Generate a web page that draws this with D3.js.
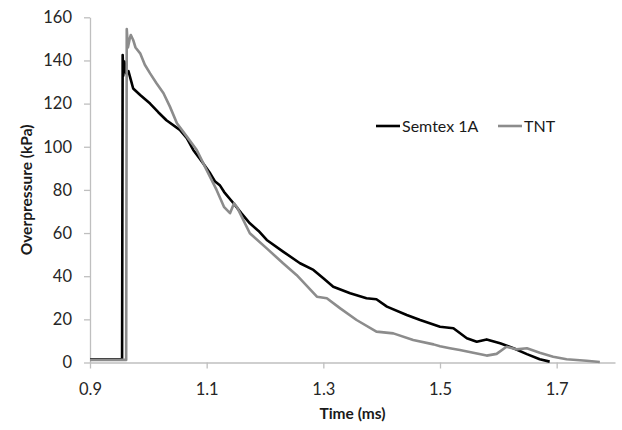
<!DOCTYPE html>
<html>
<head>
<meta charset="utf-8">
<script src="https://cdn.jsdelivr.net/npm/d3@7"></script>
<style>
  body { margin: 0; background: #fff; }
  text { font-family: Lato, "Open Sans", sans-serif; }
</style>
</head>
<body>
<svg id="chart"></svg>
<script>
// Semtex 1A trace [time ms, overpressure kPa]
const semtex = [
  [0.900, 1.5], [0.955, 1.5], [0.956, 142.5], [0.957, 133], [0.959, 139.5],
  [0.962, 134], [0.966, 135], [0.970, 131], [0.974, 127], [0.986, 124],
  [1.003, 120], [1.017, 116], [1.031, 112.3], [1.054, 107.8], [1.066, 104],
  [1.077, 98.5], [1.092, 93], [1.106, 87.7], [1.114, 84], [1.123, 82],
  [1.130, 79], [1.146, 73.8], [1.160, 69], [1.174, 64.5], [1.189, 61],
  [1.203, 56.8], [1.231, 51.4], [1.260, 46], [1.283, 42.9], [1.300, 39],
  [1.317, 35.1], [1.346, 32.1], [1.374, 29.8], [1.391, 29.3], [1.409, 25.9],
  [1.443, 22], [1.466, 19.7], [1.500, 16.6], [1.523, 15.9], [1.546, 11.2],
  [1.563, 9.6], [1.580, 10.7], [1.603, 8.9], [1.626, 6.6], [1.649, 3.9],
  [1.671, 1.5], [1.688, 0.4]
];

// TNT trace [time ms, overpressure kPa]
const tnt = [
  [0.900, 1.2], [0.962, 1.2], [0.963, 154.5], [0.965, 146], [0.968, 150],
  [0.970, 151.8], [0.974, 149.5], [0.978, 146], [0.986, 143.3], [0.994, 138],
  [1.003, 134], [1.014, 129.4], [1.026, 124.8], [1.037, 118.6], [1.049, 110.9],
  [1.066, 104.7], [1.083, 98.5], [1.100, 89.2], [1.117, 80], [1.130, 72],
  [1.140, 69.2], [1.147, 73.8], [1.152, 72], [1.174, 59.9], [1.203, 52.9],
  [1.231, 46], [1.254, 40.6], [1.289, 30.5], [1.306, 29.8], [1.329, 25.1],
  [1.357, 19.7], [1.391, 14.3], [1.420, 13.5], [1.454, 10.4], [1.489, 8.4],
  [1.500, 7.5], [1.517, 6.6], [1.534, 5.8], [1.557, 4.5], [1.580, 3.2],
  [1.597, 4], [1.614, 7.3], [1.631, 6.1], [1.649, 6.6], [1.671, 4.5],
  [1.694, 2.7], [1.717, 1.5], [1.751, 0.8], [1.774, 0.2]
];

const seriesNames = ["Semtex 1A", "TNT"];
const xTicks = [0.9, 1.1, 1.3, 1.5, 1.7];
const yTicks = [0, 20, 40, 60, 80, 100, 120, 140, 160];

const width = 622;
const height = 430;
const margin = { top: 17.3, right: 7, bottom: 67.5, left: 90 };

const svg = d3.select("#chart")
  .attr("width", width)
  .attr("height", height);

const x = d3.scaleLinear()
  .domain([0.9, 1.8])
  .range([margin.left, width - margin.right]);

const y = d3.scaleLinear()
  .domain([0, 160])
  .range([height - margin.bottom, margin.top]);

// axes
const xAxis = svg.append("g")
  .attr("transform", `translate(0,${height - margin.bottom})`)
  .call(d3.axisBottom(x).tickValues(xTicks).tickFormat(d3.format(".1f"))
    .tickSize(6).tickPadding(15).tickSizeOuter(0));

const yAxis = svg.append("g")
  .attr("transform", `translate(${margin.left},0)`)
  .call(d3.axisLeft(y).tickValues(yTicks).tickSize(6).tickPadding(12).tickSizeOuter(0));

[xAxis, yAxis].forEach(g => {
  g.select(".domain").attr("stroke", "#bfbfbf").attr("stroke-width", 1.3);
  g.selectAll(".tick line").attr("stroke", "#bfbfbf").attr("stroke-width", 1.3);
  g.selectAll(".tick text").attr("fill", "#262626").style("font-size", "16.5px");
});

// lines
const line = d3.line()
  .x(d => x(d[0]))
  .y(d => y(d[1]));

svg.append("path")
  .datum(semtex)
  .attr("fill", "none")
  .attr("stroke", "#000")
  .attr("stroke-width", 2.6)
  .attr("stroke-linejoin", "round")
  .attr("d", line);

svg.append("path")
  .datum(tnt)
  .attr("fill", "none")
  .attr("stroke", "#8c8c8c")
  .attr("stroke-width", 2.6)
  .attr("stroke-linejoin", "round")
  .attr("d", line);

// axis titles
svg.append("text")
  .attr("x", (margin.left + width - margin.right) / 2)
  .attr("y", 419)
  .attr("text-anchor", "middle")
  .attr("font-weight", "bold")
  .style("font-size", "15.5px")
  .attr("fill", "#1a1a1a")
  .text("Time (ms)");

svg.append("text")
  .attr("transform", `translate(32,${(margin.top + height - margin.bottom) / 2}) rotate(-90)`)
  .attr("text-anchor", "middle")
  .attr("font-weight", "bold")
  .style("font-size", "15.5px")
  .attr("fill", "#1a1a1a")
  .text("Overpressure (kPa)");

// legend
const legendColors = ["#000", "#8c8c8c"];
const legendX = [376, 498];
const legend = svg.append("g");
seriesNames.forEach((name, i) => {
  legend.append("line")
    .attr("x1", legendX[i]).attr("x2", legendX[i] + 24)
    .attr("y1", 126).attr("y2", 126)
    .attr("stroke", legendColors[i])
    .attr("stroke-width", 2.6);
  legend.append("text")
    .attr("x", legendX[i] + 26)
    .attr("y", 132)
    .style("font-size", "16px")
    .attr("fill", "#1a1a1a")
    .text(name);
});
</script>
</body>
</html>
